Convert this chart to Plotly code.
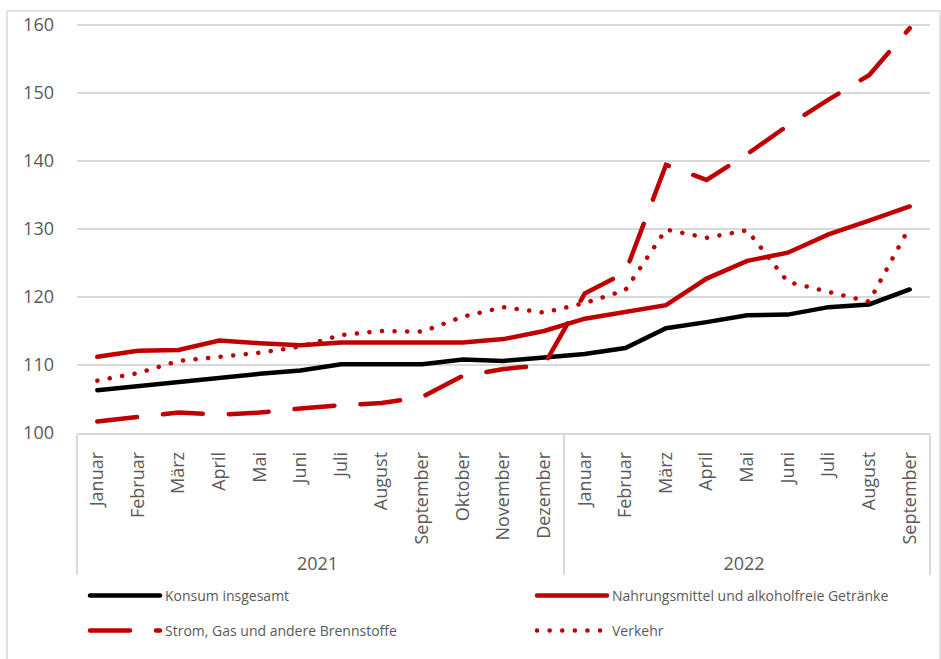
import plotly.graph_objects as go

years = ["2021", "2021", "2021", "2021", "2021", "2021", "2021", "2021", "2021", "2021", "2021", "2021",
         "2022", "2022", "2022", "2022", "2022", "2022", "2022", "2022", "2022"]
months = ["Januar", "Februar", "März", "April", "Mai", "Juni", "Juli", "August", "September",
          "Oktober", "November", "Dezember",
          "Januar", "Februar", "März", "April", "Mai", "Juni", "Juli", "August", "September"]

konsum = [106.3, 106.9, 107.5, 108.2, 108.7, 109.2, 110.1, 110.1, 110.1, 110.8, 110.6, 111.1,
          111.6, 112.5, 115.4, 116.3, 117.3, 117.4, 118.5, 118.9, 121.1]
nahrung = [111.2, 112.1, 112.2, 113.6, 113.2, 112.9, 113.3, 113.3, 113.3, 113.3, 113.8, 115.0,
           116.8, 117.8, 118.8, 122.7, 125.3, 126.5, 129.2, 131.2, 133.3]
strom = [101.7, 102.3, 103.0, 102.7, 103.0, 103.6, 104.1, 104.4, 105.3, 108.4, 109.4, 110.0,
         120.5, 123.6, 139.4, 137.2, 141.0, 145.2, 149.0, 152.6, 159.5]
verkehr = [107.7, 108.8, 110.6, 111.2, 111.8, 112.7, 114.4, 115.0, 114.9, 117.1, 118.5, 117.7,
           119.1, 121.0, 129.9, 128.7, 129.8, 122.2, 120.8, 119.3, 130.3]

names = ["Konsum insgesamt", "Nahrungsmittel und alkoholfreie Getränke",
         "Strom, Gas und andere Brennstoffe", "Verkehr"]

RED = "#C00000"
GREY = "#595959"
LINE = "#D9D9D9"
FONT = "Open Sans"

fig = go.Figure()
series = [
    (konsum, names[0], "#000000", "solid", "legend"),
    (nahrung, names[1], RED, "solid", "legend2"),
    (strom, names[2], RED, "40px,26px", "legend3"),
    (verkehr, names[3], RED, "0.1px,12.5px", "legend4"),
]
for vals, name, col, dash, lg in series:
    fig.add_trace(go.Scatter(
        x=[years, months], y=vals, name=name, mode="lines",
        line=dict(color=col, width=4.5, dash=dash),
        legend=lg, hoverinfo="skip",
    ))

H_PLOT = 433 - 18
X1 = 8 / 853
X2 = (532 - 77) / 853
Y1 = (433 - 596) / H_PLOT
Y2 = (433 - 631) / H_PLOT


def leg(x, y):
    return dict(orientation="h", x=x, xanchor="left", y=y, yanchor="middle",
                font=dict(size=14, color=GREY), itemwidth=70,
                bgcolor="rgba(0,0,0,0)")


fig.update_layout(
    width=941, height=659,
    margin=dict(l=77, r=11, t=18, b=226),
    paper_bgcolor="white", plot_bgcolor="white",
    font=dict(family=FONT, color=GREY, size=18),
    showlegend=True,
    legend=leg(X1, Y1), legend2=leg(X2, Y1), legend3=leg(X1, Y2), legend4=leg(X2, Y2),
    xaxis=dict(type="multicategory", range=[-0.5, 20.5], tickangle=-90, showgrid=False, showline=True,
               linecolor=LINE, linewidth=1.5, ticks="", showdividers=True,
               dividercolor=LINE, dividerwidth=1.5, ticklabelstandoff=10,
               tickfont=dict(size=18, color=GREY)),
    yaxis=dict(range=[100, 161], tick0=100, dtick=10, showgrid=True, gridcolor=LINE,
               gridwidth=1.5, zeroline=False, showline=False, ticks="",
               ticklabelstandoff=22, tickfont=dict(size=18, color=GREY)),
    shapes=[dict(type="rect", xref="paper", yref="paper",
                 x0=(7 - 77) / 853, x1=(940 - 77) / 853, y0=(433 - 700) / H_PLOT, y1=(433 - 11) / H_PLOT,
                 line=dict(color=LINE, width=1.5), fillcolor="rgba(0,0,0,0)", layer="below")],
)

post = """
var gd = document.getElementById('{plot_id}');
function rc(){ gd.querySelectorAll('path.js-line, .legendlines path').forEach(function(p){p.style.strokeLinecap='round';}); }
rc(); setTimeout(rc, 30); gd.on('plotly_afterplot', rc);
"""
fig.write_html("out.html", post_script=post)
